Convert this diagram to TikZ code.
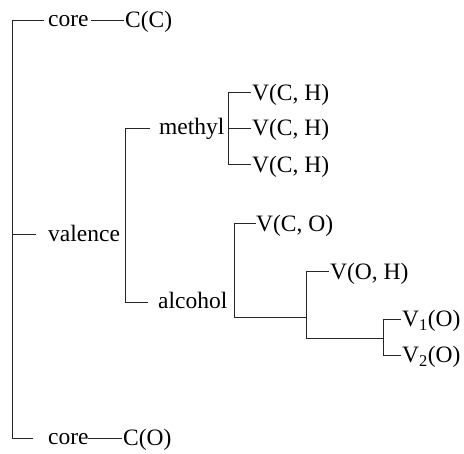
\documentclass[tikz,border=0pt]{standalone}
\usepackage{fontspec}
\setmainfont{Liberation Serif}
\begin{document}
\begin{tikzpicture}[x=1pt,y=-1pt,
  edge/.style={line width=1pt, line cap=rect, draw=black!85},
  lbl/.style={anchor=base west, inner sep=0pt, font=\fontsize{23.5}{28}\selectfont}]
\useasboundingbox (0,0) rectangle (464,454);
% label nodes
\node[lbl] (core1) at (48,27) {core};
\node[lbl] (cc) at (125,28) {C(C)};
\node[lbl] (valence) at (48,241.5) {valence};
\node[lbl] (core2) at (48,445) {core};
\node[lbl] (co) at (123,446) {C(O)};
\node[lbl] (methyl) at (159,135) {methyl};
\node[lbl] (alcohol) at (158,309) {alcohol};
\node[lbl] (vch1) at (252,100.5) {V(C, H)};
\node[lbl] (vch2) at (252,136) {V(C, H)};
\node[lbl] (vch3) at (252,172.5) {V(C, H)};
\node[lbl] (vco) at (256,231.5) {V(C, O)};
\node[lbl] (voh) at (330,279.5) {V(O, H)};
\node[lbl] (v1o) at (402,327) {V\textsubscript{1}(O)};
\node[lbl] (v2o) at (402,363) {V\textsubscript{2}(O)};
% junction coordinates
\coordinate (rT) at (12,21);
\coordinate (rV) at (12,235);
\coordinate (rB) at (12,439);
\coordinate (vT) at (125,128.5);
\coordinate (vB) at (125,303);
\coordinate (mT) at (228,93);
\coordinate (mM) at (228,128.5);
\coordinate (mB) at (228,165);
\coordinate (aT) at (234,224);
\coordinate (aB) at (234,318);
\coordinate (bT) at (306.5,272);
\coordinate (bM) at (306.5,318);
\coordinate (bB) at (306.5,339);
\coordinate (cT) at (383,320);
\coordinate (cM) at (383,339);
\coordinate (cB) at (383,356);
% root
\draw[edge] (43,21) -- (rT) -- (rB) -- (32,439);
\draw[edge] (rV) -- (35,235);
\draw[edge] (91,21) -- (123,21);
\draw[edge] (88,439) -- (121,439);
% valence
\draw[edge] (149,128.5) -- (vT) -- (vB) -- (147,303);
% methyl
\draw[edge] (250,93) -- (mT) -- (mB) -- (250,165);
\draw[edge] (mM) -- (250,128.5);
% alcohol
\draw[edge] (255,224) -- (aT) -- (aB) -- (bM);
\draw[edge] (328,272) -- (bT) -- (bB) -- (cM);
\draw[edge] (400,320) -- (cT) -- (cB) -- (400,356);
\end{tikzpicture}
\end{document}
